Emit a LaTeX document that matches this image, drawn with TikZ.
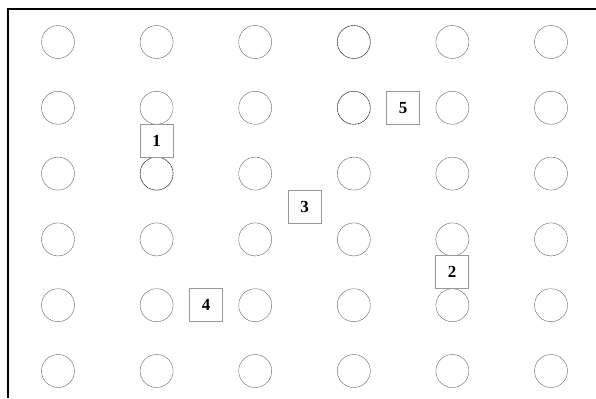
\documentclass[tikz,border=0pt]{standalone}
\usepackage{fontspec}
\setmainfont{Liberation Serif}

\tikzset{
  hole/.style={circle, draw=black!60, minimum size=33bp, inner sep=0pt},
  marked/.style={black!85, densely dotted, line width=0.6pt},
  tag/.style={draw=black!40, fill=white, minimum size=33bp, inner sep=0pt,
    font=\fontsize{17}{19}\selectfont\bfseries}
}

\begin{document}
\begin{tikzpicture}[x=1bp, y=-1bp]
  \useasboundingbox (0,0) rectangle (596,398);
  % frame
  \draw[line width=1.1pt] (596,9) -- (8,9) -- (8,398);
  % grid of holes
  \foreach \i in {0,...,5}
    \foreach \j in {0,...,5}
      \node[hole] (h\i\j) at ({58+98.6*\i},{42+65.8*\j}) {};
  \draw[marked] (h30) circle (16.5);
  \draw[marked] (h31) circle (16.5);
  \draw[marked] (h12) circle (16.5);
  % numbered tags
  \node[tag] (t1) at (156.6,141) {1};
  \node[tag] (t2) at (452,272) {2};
  \node[tag] (t3) at (304.5,206.5) {3};
  \node[tag] (t4) at (206,305) {4};
  \node[tag] (t5) at (403,108) {5};
\end{tikzpicture}
\end{document}
